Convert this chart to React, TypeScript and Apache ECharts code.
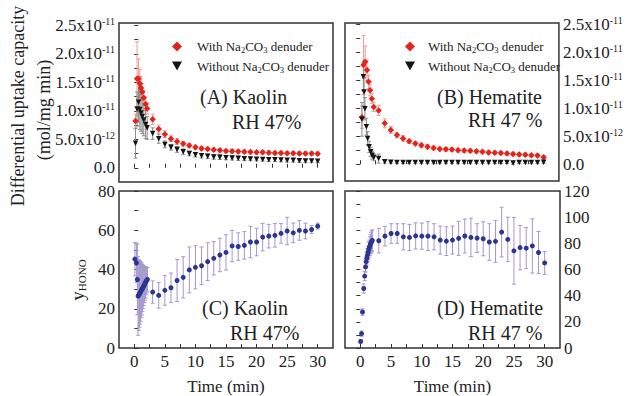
import React, { useEffect, useRef } from 'react';
import * as echarts from 'echarts';

const FONT = '"Liberation Serif", "Times New Roman", Times, serif';

// [time (min), differential uptake capacity (x1e-12 mol/mg min), error]
const kaolinWith: number[][] = [
  [0.2, 8.2, 1.2], [0.45, 15.6, 6.5], [0.7, 15.6, 3.5], [0.9, 14.8, 2.5], [1.1, 14.0, 2.0],
  [1.3, 13.3, 1.5], [1.55, 12.3, 1.3], [1.85, 11.2, 1.2], [2.1, 10.4, 1.0],
  [3, 8.5, 0.9], [4, 6.8, 0.7], [5, 5.9, 0.6], [6, 5.1, 0.5], [7, 4.6, 0.5], [8, 4.2, 0.4],
  [9, 3.9, 0.4], [10, 3.6, 0.4], [11, 3.4, 0.4], [12, 3.3, 0.3], [13, 3.15, 0.3], [14, 3.05, 0.3],
  [15, 2.95, 0.3], [16, 2.9, 0.3], [17, 2.85, 0.3], [18, 2.8, 0.3], [19, 2.75, 0.3], [20, 2.7, 0.3],
  [21, 2.7, 0.3], [22, 2.65, 0.3], [23, 2.6, 0.3], [24, 2.6, 0.3], [25, 2.55, 0.3], [26, 2.55, 0.3],
  [27, 2.5, 0.3], [28, 2.5, 0.3], [29, 2.5, 0.3], [30, 2.45, 0.3],
];
const kaolinWithout: number[][] = [
  [0.2, 4.3, 2.6], [0.45, 10.3, 3.0], [0.7, 11.5, 3.5], [0.9, 10.2, 3.5], [1.1, 9.6, 3.2],
  [1.3, 9.0, 3.0], [1.55, 8.4, 2.8], [1.85, 7.6, 2.5], [2.1, 7.0, 2.0],
  [3, 6.0, 1.0], [4, 5.1, 0.8], [5, 4.1, 0.6], [6, 3.6, 0.5], [7, 3.2, 0.5], [8, 2.8, 0.5],
  [9, 2.5, 0.4], [10, 2.3, 0.4], [11, 2.1, 0.4], [12, 2.0, 0.4], [13, 1.9, 0.4], [14, 1.85, 0.4],
  [15, 1.75, 0.35], [16, 1.7, 0.35], [17, 1.65, 0.35], [18, 1.6, 0.35], [19, 1.55, 0.3], [20, 1.5, 0.3],
  [21, 1.45, 0.3], [22, 1.4, 0.3], [23, 1.4, 0.3], [24, 1.35, 0.3], [25, 1.3, 0.3], [26, 1.3, 0.3],
  [27, 1.25, 0.3], [28, 1.2, 0.3], [29, 1.2, 0.3], [30, 1.15, 0.3],
];
const hematiteWith: number[][] = [
  [0.27, 8.4, 2.0], [0.54, 17.7, 5.3], [0.8, 18.3, 2.8], [1.1, 16.8, 1.8], [1.36, 14.7, 1.2],
  [1.6, 13.2, 1.0], [1.9, 11.7, 0.9], [2.2, 10.2, 0.8],
  [3, 9.6, 0.9], [4, 7.3, 0.8], [5, 6.1, 0.6], [6, 5.2, 0.5], [7, 4.6, 0.5], [8, 4.1, 0.4],
  [9, 3.7, 0.4], [10, 3.4, 0.4], [11, 3.1, 0.4], [12, 2.9, 0.35], [13, 2.7, 0.35], [14, 2.65, 0.35],
  [15, 2.6, 0.35], [16, 2.5, 0.35], [17, 2.45, 0.3], [18, 2.4, 0.3], [19, 2.3, 0.3], [20, 2.2, 0.3],
  [21, 2.1, 0.3], [22, 2.05, 0.3], [23, 2.0, 0.3], [24, 1.9, 0.3], [25, 1.8, 0.3], [26, 1.75, 0.3],
  [27, 1.7, 0.3], [28, 1.6, 0.3], [29, 1.55, 0.3], [30, 1.25, 0.3],
];
const hematiteWithout: number[][] = [
  [0.27, 8.0, 3.0], [0.5, 15.6, 2.5], [0.62, 12.9, 2.5], [0.76, 9.9, 2.0], [1.0, 6.7, 1.5],
  [1.2, 4.6, 1.2], [1.45, 3.1, 1.0], [1.7, 2.2, 0.8], [1.95, 1.6, 0.7], [2.2, 1.2, 0.6],
  [3, 1.0, 0.8], [4, 0.45, 0.3], [5, 0.35, 0.2], [6, 0.3, 0.2], [7, 0.3, 0.2], [8, 0.3, 0.2],
  [9, 0.3, 0.2], [10, 0.3, 0.2], [11, 0.3, 0.2], [12, 0.3, 0.2], [13, 0.3, 0.2], [14, 0.3, 0.2],
  [15, 0.3, 0.2], [16, 0.3, 0.2], [17, 0.3, 0.2], [18, 0.3, 0.2], [19, 0.3, 0.2], [20, 0.3, 0.2],
  [21, 0.3, 0.2], [22, 0.3, 0.2], [23, 0.3, 0.2], [24, 0.3, 0.2], [25, 0.2, 0.2], [26, 0.3, 0.2],
  [27, 0.3, 0.2], [28, 0.3, 0.2], [29, 0.3, 0.2], [30, 0.35, 0.2],
];
// [time (min), y_HONO, error]
const kaolinGamma: number[][] = [
  [0.1, 45.3, 8.5], [0.35, 43.3, 10], [0.5, 34.9, 18], [0.62, 26.5, 20], [0.75, 27.0, 18],
  [0.85, 27.6, 17], [0.95, 28.1, 16], [1.05, 28.7, 15], [1.15, 29.4, 14], [1.25, 29.8, 13],
  [1.35, 30.5, 12], [1.45, 31.0, 11], [1.55, 31.6, 10], [1.65, 32.2, 9], [1.75, 32.9, 8.5],
  [1.85, 33.5, 8], [1.95, 34.1, 7], [2.05, 34.6, 6.5], [2.15, 35.0, 6],
  [3, 28.5, 5.7], [4, 26.8, 6.5], [5, 29.4, 7.6], [6, 30.7, 7.5], [7, 34.4, 10.7], [8, 36.0, 10.5],
  [9, 39.8, 11.7], [10, 41.1, 11], [11, 41.9, 9.6], [12, 44.0, 9.6], [13, 45.7, 8.5], [14, 47.4, 8.5],
  [15, 48.7, 9], [16, 52.0, 8], [17, 51.7, 7], [18, 52.3, 7], [19, 54.0, 8], [20, 54.0, 7],
  [21, 56.5, 7], [22, 57.0, 6], [23, 57.4, 6], [24, 58.4, 5], [25, 59.6, 7], [26, 58.7, 5],
  [27, 59.9, 5], [28, 59.6, 4], [29, 60.4, 2], [30, 62.1, 1.5],
];
const hematiteGamma: number[][] = [
  [0.05, 5, 1.5], [0.2, 11, 2], [0.35, 27.5, 2.5], [0.55, 45.5, 3.5], [0.7, 55, 3.5],
  [0.85, 62, 4], [0.95, 66, 4], [1.05, 68.5, 5], [1.15, 71, 5], [1.25, 73, 5], [1.35, 75, 6],
  [1.45, 76.5, 6], [1.55, 78, 7], [1.65, 79.5, 7], [1.75, 80.5, 8], [1.85, 81.5, 8], [1.95, 82.3, 8],
  [3, 82, 9.4], [4, 85.5, 7.5], [5, 87.5, 7.5], [6, 87.5, 7.5], [7, 85, 10], [8, 84.5, 10],
  [9, 85.7, 10], [10, 85.5, 10], [11, 85.5, 11], [12, 85, 10], [13, 82.5, 10.7], [14, 81.7, 11],
  [15, 82.5, 10.7], [16, 83.8, 13], [17, 85.6, 13], [18, 84.5, 14.7], [19, 84, 11], [20, 83.5, 13],
  [21, 81, 14], [22, 81.5, 16], [23, 88.6, 19], [24, 83, 17], [25, 74.3, 25.5], [26, 76.7, 17],
  [27, 76.3, 15.7], [28, 78, 20.7], [29, 73, 16], [30, 65, 8.8],
];

const xLabelTicks = [0, 5, 10, 15, 20, 25, 30];
const xTickMarks = [0, 2.5, 5, 7.5, 10, 12.5, 15, 17.5, 20, 22.5, 25, 27.5, 30];
const uptakeTicks = [0, 5, 10, 15, 20, 25];
const uptakeTickMarks = [0, 2.5, 5, 7.5, 10, 12.5, 15, 17.5, 20, 22.5, 25];
const uptakeMantissa = ['0.0', '5.0x10', '1.0x10', '1.5x10', '2.0x10', '2.5x10'];
const uptakeExponent = ['', '-12', '-11', '-11', '-11', '-11'];
const gammaTicksC = [0, 20, 40, 60, 80];
const gammaTickMarksC = [0, 10, 20, 30, 40, 50, 60, 70, 80];
const gammaTicksD = [0, 20, 40, 60, 80, 100, 120];
const gammaTickMarksD = [0, 10, 20, 30, 40, 50, 60, 70, 80, 90, 100, 110, 120];

const RED = '#e3241d';
const RED_ERR = '#f09a96';
const BLACK = '#151515';
const BLACK_ERR = '#8c8c8c';
const BLUE = '#2c3590';
const BLUE_ERR = '#a597cc';
const TEXT = '#222';
const TRI = 'path://M0,0L10,0L5,9Z';

function errorSeries(data: number[][], idx: number, color: string, cap: number) {
  return {
    type: 'custom',
    xAxisIndex: idx,
    yAxisIndex: idx,
    data,
    clip: true,
    silent: true,
    z: 1,
    encode: { x: 0, y: 1 },
    renderItem: (_params: any, api: any) => {
      const x = api.value(0);
      const y = api.value(1);
      const e = api.value(2);
      const top = api.coord([x, y + e]);
      const bot = api.coord([x, y - e]);
      const style = { stroke: color, lineWidth: 1 };
      return {
        type: 'group',
        children: [
          { type: 'line', shape: { x1: top[0], y1: top[1], x2: bot[0], y2: bot[1] }, style },
          { type: 'line', shape: { x1: top[0] - cap, y1: top[1], x2: top[0] + cap, y2: top[1] }, style },
          { type: 'line', shape: { x1: bot[0] - cap, y1: bot[1], x2: bot[0] + cap, y2: bot[1] }, style },
        ],
      };
    },
  };
}

function pointSeries(name: string, data: number[][], idx: number, symbol: string, size: number, color: string) {
  return {
    name,
    type: 'scatter',
    xAxisIndex: idx,
    yAxisIndex: idx,
    data: data.map((d) => [d[0], d[1]]),
    symbol,
    symbolSize: size,
    itemStyle: { color, opacity: 1 },
    z: 3,
  };
}

function xAxisCfg(idx: number, showLabels: boolean) {
  return {
    gridIndex: idx,
    type: 'value',
    min: -2.5,
    max: 32.5,
    axisLine: { show: false },
    axisTick: { show: true, inside: true, length: 4, customValues: xTickMarks, lineStyle: { color: '#333', width: 1 } },
    axisLabel: {
      show: showLabels,
      customValues: xLabelTicks,
      fontSize: 17,
      fontFamily: FONT,
      color: TEXT,
      margin: 5,
    },
    splitLine: { show: false },
    name: showLabels ? 'Time (min)' : '',
    nameLocation: 'middle',
    nameGap: 30,
    nameTextStyle: { fontSize: 17, fontFamily: FONT, color: TEXT, fontWeight: 'normal' },
  };
}

const uptakeFormatter = (v: number) => {
  const i = uptakeTicks.indexOf(Math.round(v * 1000) / 1000);
  if (i < 0) return '';
  return uptakeExponent[i] ? `{m|${uptakeMantissa[i]}}{s|${uptakeExponent[i]}}` : `{m|${uptakeMantissa[i]}}`;
};
const uptakeRich = {
  m: { fontSize: 17, fontFamily: FONT, color: TEXT, lineHeight: 18 },
  s: { fontSize: 10, fontFamily: FONT, color: TEXT, lineHeight: 10, verticalAlign: 'top' },
};

function yAxisCfg(idx: number, pos: string, min: number, max: number, ticks: number[], labels: number[], uptake: boolean) {
  return {
    gridIndex: idx,
    type: 'value',
    position: pos,
    min,
    max,
    axisLine: { show: false },
    axisTick: { show: true, inside: true, length: 4, customValues: ticks, lineStyle: { color: '#333', width: 1 } },
    axisLabel: {
      show: true,
      customValues: labels,
      margin: 4,
      fontSize: 17,
      fontFamily: FONT,
      color: TEXT,
      ...(uptake ? { formatter: uptakeFormatter, rich: uptakeRich } : {}),
    },
    splitLine: { show: false },
  };
}

const legendFormatter = (name: string) =>
  name.indexOf('without') >= 0
    ? '{g|}{t|Without Na}{s|2}{t|CO}{s|3}{t| denuder}'
    : '{g|}{t|With Na}{s|2}{t|CO}{s|3}{t| denuder}';

function legendCfg(left: number, gap: number, withName: string, withoutName: string) {
  return {
    left,
    top: 35,
    orient: 'vertical',
    itemWidth: 10,
    itemHeight: 10,
    itemGap: 5,
    selectedMode: false,
    data: [
      { name: withName, icon: 'diamond' },
      { name: withoutName, icon: TRI },
    ],
    formatter: legendFormatter,
    textStyle: {
      color: TEXT,
      rich: {
        g: { width: gap },
        t: { fontSize: 13, fontFamily: FONT, color: TEXT, lineHeight: 16 },
        s: { fontSize: 8.5, fontFamily: FONT, color: TEXT, lineHeight: 9, verticalAlign: 'bottom' },
      },
    },
  };
}

function label(text: string, x: number, y: number) {
  return {
    type: 'text',
    x,
    y,
    style: { text, fontSize: 20, fontFamily: FONT, fill: TEXT, textVerticalAlign: 'middle' },
  };
}

export default function App() {
  const ref = useRef<HTMLDivElement>(null);
  useEffect(() => {
    if (!ref.current) return;
    const chart = echarts.init(ref.current, undefined, { renderer: 'svg' });
    const gridBase = { show: true, borderColor: '#333', borderWidth: 1.5, backgroundColor: 'transparent' };
    chart.setOption({
      animation: false,
      backgroundColor: '#fff',
      grid: [
        { ...gridBase, left: 119, top: 23, width: 214, height: 159 },
        { ...gridBase, left: 345, top: 23, width: 215, height: 158 },
        { ...gridBase, left: 119, top: 191, width: 214, height: 159 },
        { ...gridBase, left: 345, top: 191, width: 215, height: 159 },
      ],
      xAxis: [xAxisCfg(0, false), xAxisCfg(1, false), xAxisCfg(2, true), xAxisCfg(3, true)],
      yAxis: [
        yAxisCfg(0, 'left', -2.5, 25.4, uptakeTickMarks, uptakeTicks, true),
        yAxisCfg(1, 'right', -3.0, 25.2, uptakeTickMarks, uptakeTicks, true),
        yAxisCfg(2, 'left', 0, 80, gammaTickMarksC, gammaTicksC, false),
        yAxisCfg(3, 'right', 0, 120, gammaTickMarksD, gammaTicksD, false),
      ],
      legend: [
        legendCfg(167, 10, 'A with', 'A without'),
        legendCfg(400, 8, 'B with', 'B without'),
      ],
      graphic: [
        label('(A) Kaolin', 200, 97),
        label('RH 47%', 232, 122),
        label('(B) Hematite', 437, 97),
        label('RH 47 %', 468, 120),
        label('(C) Kaolin', 202, 308),
        label('RH 47%', 230, 333),
        label('(D) Hematite', 437, 308),
        label('RH 47 %', 468, 333),
        {
          type: 'text',
          x: 18,
          y: 106,
          rotation: Math.PI / 2,
          style: { text: 'Differential uptake capacity', fontSize: 18, fontFamily: FONT, fill: TEXT, textAlign: 'center', textVerticalAlign: 'middle' },
        },
        {
          type: 'text',
          x: 44,
          y: 110,
          rotation: Math.PI / 2,
          style: { text: '(mol/mg min)', fontSize: 18, fontFamily: FONT, fill: TEXT, textAlign: 'center', textVerticalAlign: 'middle' },
        },
        {
          type: 'text',
          x: 77,
          y: 280,
          rotation: Math.PI / 2,
          style: {
            text: '{a|y}{b|HONO}',
            textAlign: 'center',
            textVerticalAlign: 'middle',
            rich: {
              a: { fontSize: 19, fontFamily: FONT, fill: TEXT, color: TEXT, lineHeight: 20 },
              b: { fontSize: 11, fontFamily: FONT, fill: TEXT, color: TEXT, lineHeight: 11, verticalAlign: 'bottom' },
            },
          },
        },
      ],
      series: [
        errorSeries(kaolinWith, 0, RED_ERR, 2),
        errorSeries(kaolinWithout, 0, BLACK_ERR, 2),
        pointSeries('A with', kaolinWith, 0, 'diamond', 6.5, RED),
        pointSeries('A without', kaolinWithout, 0, TRI, 5.5, BLACK),
        errorSeries(hematiteWith, 1, RED_ERR, 2),
        errorSeries(hematiteWithout, 1, BLACK_ERR, 2),
        pointSeries('B with', hematiteWith, 1, 'diamond', 6.5, RED),
        pointSeries('B without', hematiteWithout, 1, TRI, 5.5, BLACK),
        errorSeries(kaolinGamma, 2, BLUE_ERR, 2),
        pointSeries('C', kaolinGamma, 2, 'circle', 5, BLUE),
        errorSeries(hematiteGamma, 3, BLUE_ERR, 2),
        pointSeries('D', hematiteGamma, 3, 'circle', 5, BLUE),
      ],
    });
    return () => chart.dispose();
  }, []);
  return <div ref={ref} style={{ position: 'absolute', left: 0, top: 0, width: 626, height: 396 }} />;
}
